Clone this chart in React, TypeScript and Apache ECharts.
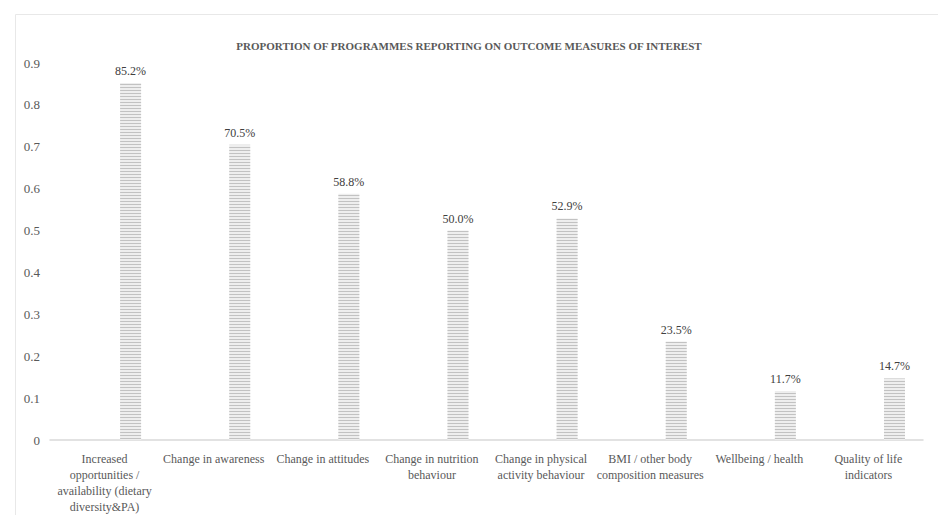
import React, { useEffect, useRef } from "react";
import * as echarts from "echarts";

const categories: string[] = [
  "Increased\nopportunities /\navailability (dietary\ndiversity&PA)",
  "Change in awareness",
  "Change in attitudes",
  "Change in nutrition\nbehaviour",
  "Change in physical\nactivity behaviour",
  "BMI / other body\ncomposition measures",
  "Wellbeing / health",
  "Quality of life\nindicators",
];
const values: number[] = [0.852, 0.705, 0.588, 0.5, 0.529, 0.235, 0.117, 0.147];
const placeholder: (number | null)[] = [null, null, null, null, null, null, null, null];
const titleText = "PROPORTION OF PROGRAMMES REPORTING ON OUTCOME MEASURES OF INTEREST";

const FONT = "'Liberation Serif', 'Times New Roman', serif";
const TXT = "#595959";

export default function App() {
  const ref = useRef<HTMLDivElement>(null);
  useEffect(() => {
    document.body.style.margin = "0";
    const chart = echarts.init(ref.current!, undefined, { renderer: "svg" });
    chart.setOption({
      animation: false,
      backgroundColor: "#ffffff",
      title: {
        text: titleText,
        left: "center",
        top: 35,
        textStyle: { fontFamily: FONT, fontSize: 11, fontWeight: "bold", color: TXT },
      },
      graphic: [
        {
          type: "rect",
          shape: { x: 15.5, y: 14.5, width: 940, height: 520 },
          style: { fill: "none", stroke: "#e8e8e8", lineWidth: 1 },
          silent: true,
        },
      ],
      grid: { left: 50, right: 15, top: 63, bottom: 68, containLabel: false },
      xAxis: {
        type: "category",
        data: categories,
        axisLine: { lineStyle: { color: "#d9d9d9", width: 1.5 } },
        axisTick: { show: false },
        axisLabel: {
          interval: 0,
          margin: 11,
          fontFamily: FONT,
          fontSize: 12,
          lineHeight: 16,
          color: TXT,
        },
      },
      yAxis: {
        type: "value",
        min: 0,
        max: 0.9,
        interval: 0.1,
        splitLine: { show: false },
        axisLine: { show: false },
        axisTick: { show: false },
        axisLabel: {
          margin: 10,
          fontFamily: FONT,
          fontSize: 13,
          color: TXT,
          formatter: (v: number) => (v === 0 ? "0" : v.toFixed(1)),
        },
      },
      series: [
        {
          type: "bar",
          data: placeholder,
          barWidth: 21,
          barGap: "148%",
          silent: true,
        },
        {
          type: "bar",
          data: values,
          barWidth: 21,
          itemStyle: {
            color: "#eeeeee",
            decal: {
              symbol: "rect",
              symbolSize: 1,
              color: "#c2c2c2",
              dashArrayX: [1, 0],
              dashArrayY: [1, 2],
              rotation: 0,
            },
          },
          label: {
            show: true,
            position: "top",
            distance: 6,
            fontFamily: FONT,
            fontSize: 12,
            color: "#404040",
            formatter: (p: any) => (p.value * 100).toFixed(1) + "%",
          },
        },
      ],
    });
    return () => chart.dispose();
  }, []);
  return <div ref={ref} style={{ width: 938, height: 515 }} />;
}
